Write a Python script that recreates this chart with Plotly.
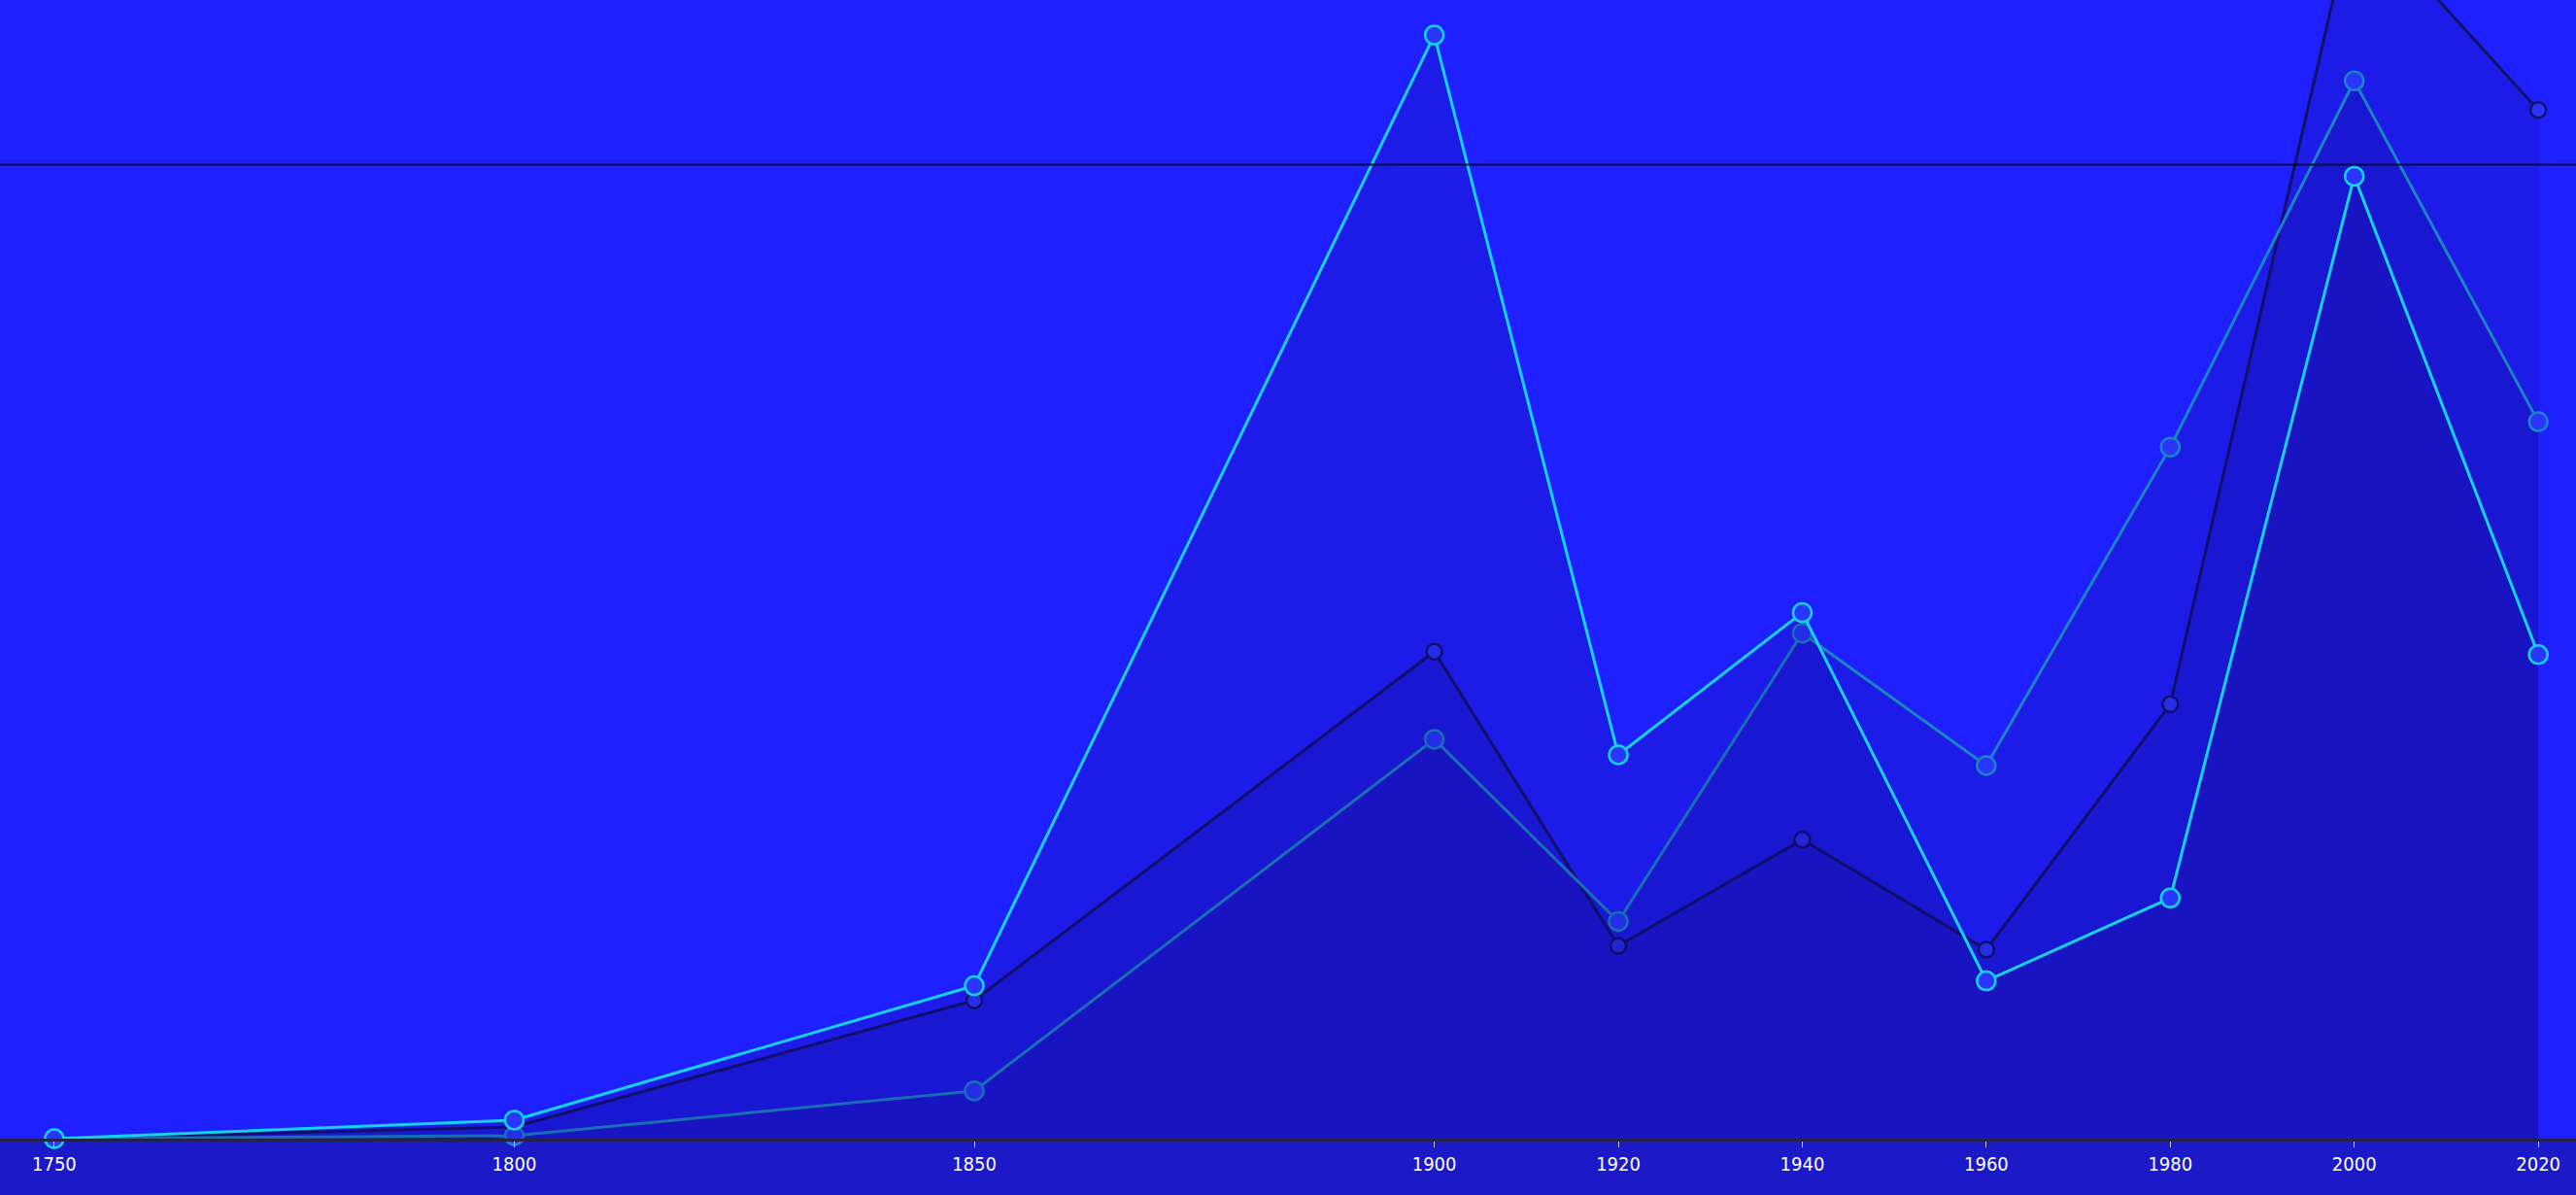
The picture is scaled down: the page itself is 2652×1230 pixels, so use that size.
import plotly.graph_objects as go

years = [1750, 1800, 1850, 1900, 1920, 1940, 1960, 1980, 2000, 2020]

series_a = [0.0, 1.9, 15.7, 113.3, 39.4, 54.0, 16.2, 24.7, 98.8, 49.7]
series_b = [0.0, 0.3, 4.9, 41.0, 22.3, 51.9, 38.3, 71.0, 108.6, 73.6]
series_c = [0.0, 1.2, 14.2, 50.0, 19.8, 30.7, 19.4, 44.6, 126.4, 105.6]

tick_years = [1750, 1800, 1850, 1900, 1920, 1940, 1960, 1980, 2000, 2020]
reference_level = 100

fig = go.Figure()

# draw order: navy, teal, cyan on top
for name, vals, color, msize in [
    ("C", series_c, "#111268", 16),
    ("B", series_b, "#1a84c2", 19),
    ("A", series_a, "#12d4ee", 19),
]:
    fig.add_trace(go.Scatter(
        x=years,
        y=vals,
        name=name,
        mode="lines+markers",
        fill="tozeroy",
        fillcolor="rgba(16,8,110,0.17)",
        line=dict(color=color, width=3),
        marker=dict(size=msize, color="#2a36ff", line=dict(color=color, width=2.5)),
        cliponaxis=False,
        showlegend=False,
    ))

fig.add_hline(y=reference_level, line=dict(color="#0a0a40", width=2))

fig.update_layout(
    width=2652,
    height=1230,
    margin=dict(l=0, r=0, t=0, b=58),
    paper_bgcolor="#1b19c8",
    plot_bgcolor="#1f20ff",
    xaxis=dict(
        range=[1744.1, 2024.1],
        tickvals=tick_years,
        ticktext=[str(y) for y in tick_years],
        showgrid=False,
        zeroline=False,
        showline=True,
        linecolor="#22224a",
        linewidth=3,
        ticks="outside",
        ticklen=6,
        tickcolor="#c8c8f0",
        tickfont=dict(family="DejaVu Sans Condensed, Liberation Sans Narrow, sans-serif",
                      size=20, color="white"),
    ),
    yaxis=dict(
        range=[0, 116.9],
        showgrid=False,
        zeroline=False,
        showticklabels=False,
        showline=False,
    ),
)

fig.write_html(
    "out.html",
    config={"displayModeBar": False},
    post_script="document.body.style.margin='0px';",
)
